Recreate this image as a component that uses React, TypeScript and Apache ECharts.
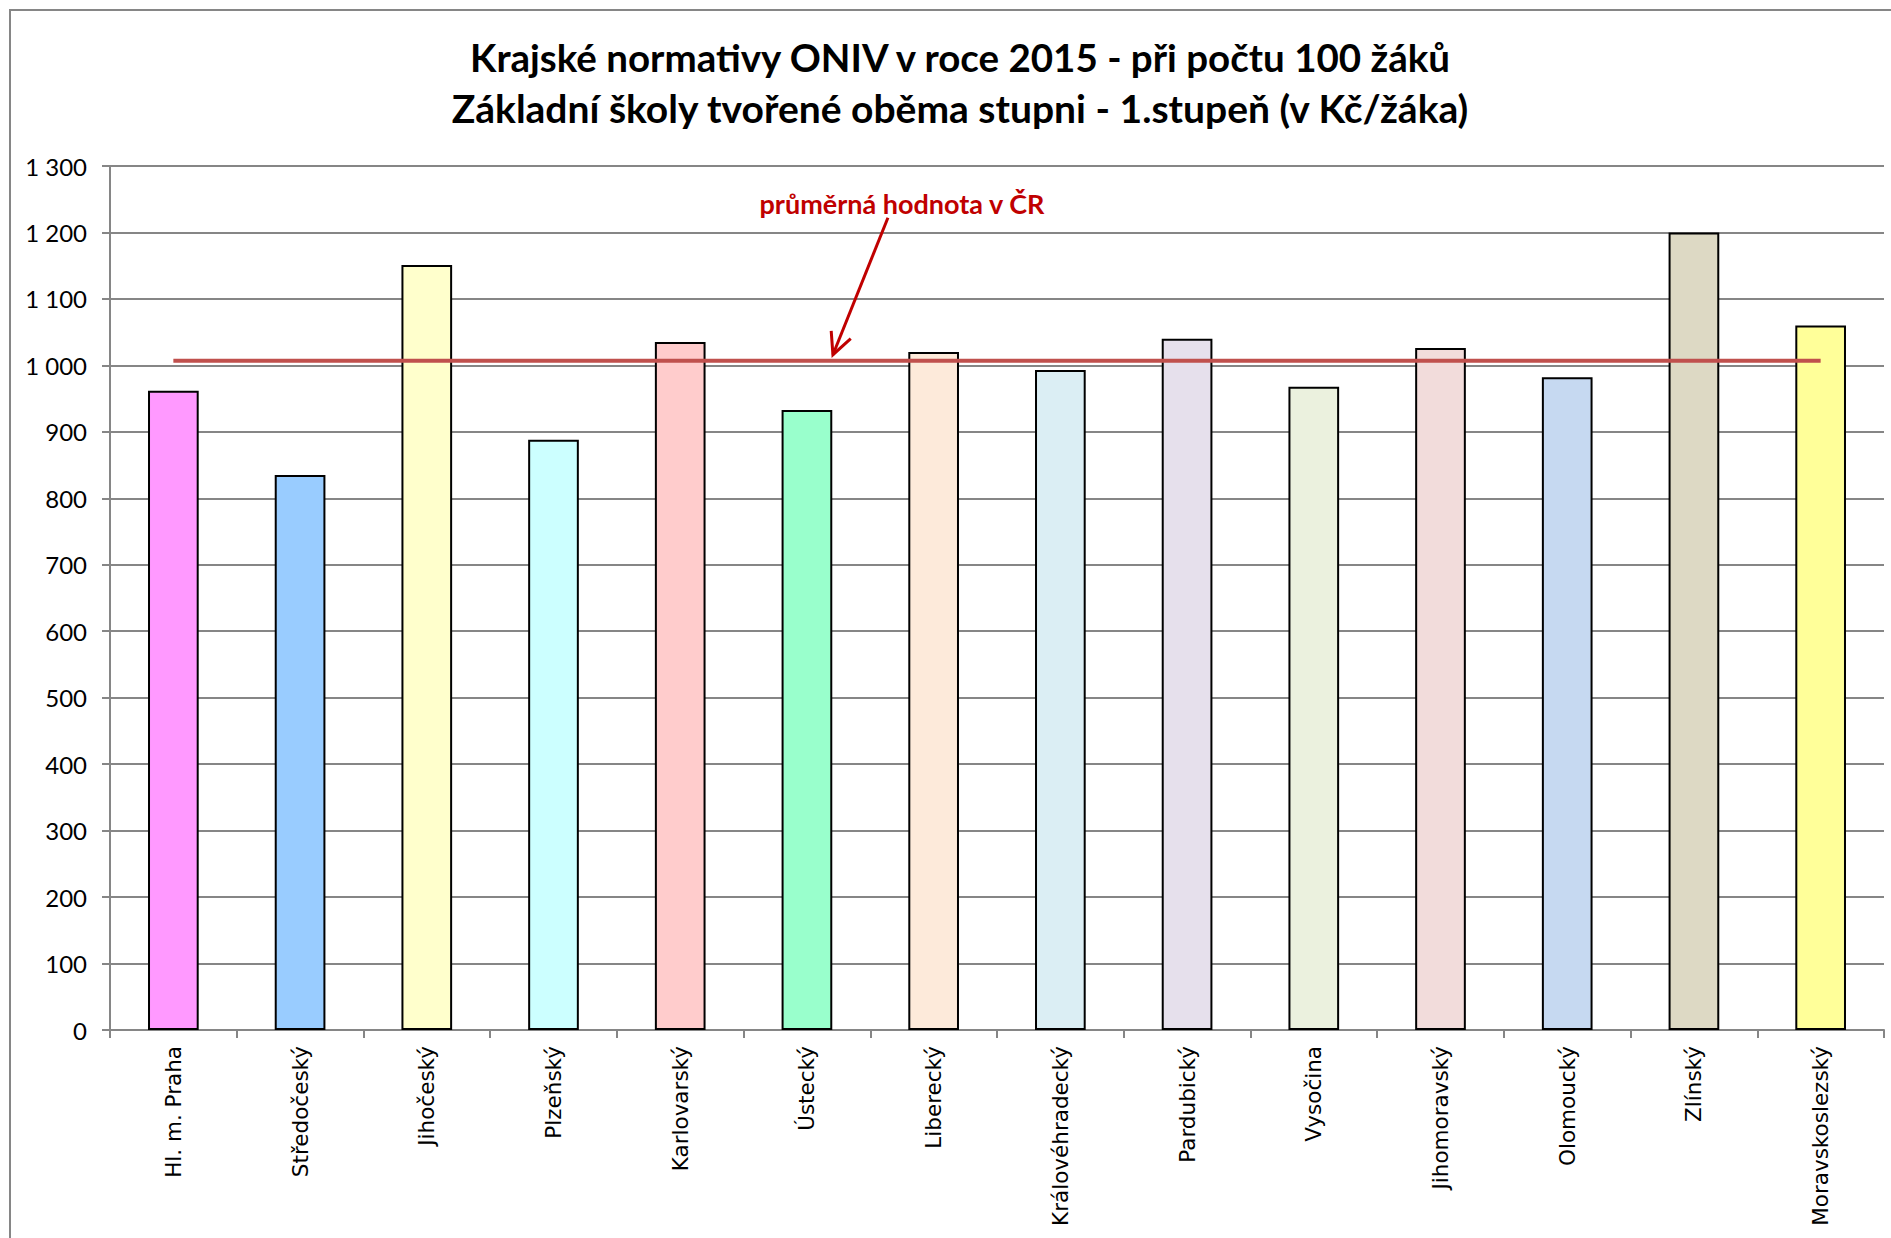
import React, { useEffect, useRef } from "react";
import * as echarts from "echarts";

const categories = [
  "Hl. m. Praha",
  "Středočeský",
  "Jihočeský",
  "Plzeňský",
  "Karlovarský",
  "Ústecký",
  "Liberecký",
  "Královéhradecký",
  "Pardubický",
  "Vysočina",
  "Jihomoravský",
  "Olomoucký",
  "Zlínský",
  "Moravskoslezský",
];

const values = [962, 835, 1151, 888, 1035, 933, 1020, 993, 1040, 968, 1026, 982, 1200, 1060];

const barColors = [
  "#FF99FF",
  "#99CCFF",
  "#FFFFCC",
  "#CCFFFF",
  "#FFCCCC",
  "#99FFCC",
  "#FDEADA",
  "#DBEEF4",
  "#E6E0EC",
  "#EBF1DE",
  "#F2DCDB",
  "#C6D9F1",
  "#DDD9C4",
  "#FFFF99",
];

const averageValue = 1007;

const titleLines = [
  "Krajské normativy ONIV v roce 2015 - při počtu 100 žáků",
  "Základní školy tvořené oběma stupni - 1.stupeň (v Kč/žáka)",
];

const annotationText = "průměrná hodnota v ČR";

export default function App() {
  const ref = useRef<HTMLDivElement>(null);

  useEffect(() => {
    if (!ref.current) return;
    const chart = echarts.init(ref.current, undefined, { renderer: "svg" });
    const gray = "#868686";
    const option: any = {
      animation: false,
      backgroundColor: "#ffffff",
      grid: { left: 110, right: 7, top: 166, bottom: 208, containLabel: false },
      xAxis: {
        type: "category",
        data: categories,
        axisLine: { show: true, lineStyle: { color: gray, width: 2 } },
        axisTick: { show: true, length: 8, lineStyle: { color: gray, width: 2 } },
        axisLabel: {
          rotate: 90,
          interval: 0,
          margin: 16,
          color: "#000",
          fontFamily: "DejaVu Sans",
          fontSize: 21.5,
        },
      },
      yAxis: {
        type: "value",
        min: 0,
        max: 1300,
        interval: 100,
        axisLine: { show: true, lineStyle: { color: gray, width: 2 } },
        axisTick: { show: true, length: 8, lineStyle: { color: gray, width: 2 } },
        splitLine: { show: true, lineStyle: { color: gray, width: 2 } },
        axisLabel: {
          margin: 23,
          color: "#000",
          fontFamily: "Lato",
          fontSize: 24,
          formatter: (v: number) => String(v).replace(/\B(?=(\d{3})+(?!\d))/g, " "),
        },
      },
      series: [
        {
          type: "bar",
          barWidth: "40%",
          data: values.map((v, i) => ({
            value: v,
            itemStyle: { color: barColors[i], borderColor: "#000", borderWidth: 2 },
          })),
          z: 2,
        },
        {
          type: "line",
          data: categories.map(() => averageValue),
          symbol: "none",
          lineStyle: { color: "#C0504D", width: 4 },
          z: 3,
        },
      ],
    };
    chart.setOption(option);

    const yAvg = chart.convertToPixel({ yAxisIndex: 0 }, averageValue) as number;
    const xRef = chart.convertToPixel({ xAxisIndex: 0 }, 5) as number;
    const tipX = xRef + 26;
    const tipY = yAvg - 6;
    const startX = tipX + 55;
    const startY = tipY - 137;
    const len = Math.hypot(startX - tipX, startY - tipY);
    const ux = (startX - tipX) / len;
    const uy = (startY - tipY) / len;
    const armLen = 24;
    const ang = (26 * Math.PI) / 180;
    const rot = (a: number) => [
      ux * Math.cos(a) - uy * Math.sin(a),
      ux * Math.sin(a) + uy * Math.cos(a),
    ];
    const a1 = rot(ang);
    const a2 = rot(-ang);
    const red = "#C00000";

    chart.setOption({
      graphic: [
        {
          type: "rect",
          silent: true,
          z: -1,
          shape: { x: 10, y: 10, width: 1900, height: 1250 },
          style: { fill: "none", stroke: gray, lineWidth: 2 },
        },
        {
          type: "text",
          x: 960,
          y: 57,
          style: {
            text: titleLines[0],
            textAlign: "center",
            textVerticalAlign: "middle",
            fontFamily: "Lato",
            fontWeight: "bold",
            fontSize: 38.5,
            fill: "#000",
          },
        },
        {
          type: "text",
          x: 960,
          y: 108,
          style: {
            text: titleLines[1],
            textAlign: "center",
            textVerticalAlign: "middle",
            fontFamily: "Lato",
            fontWeight: "bold",
            fontSize: 39,
            fill: "#000",
          },
        },
        {
          type: "text",
          x: startX + 14,
          y: startY - 14,
          style: {
            text: annotationText,
            textAlign: "center",
            textVerticalAlign: "middle",
            fontFamily: "Lato",
            fontWeight: "bold",
            fontSize: 27,
            fill: red,
          },
        },
        {
          type: "line",
          shape: { x1: startX, y1: startY, x2: tipX, y2: tipY },
          style: { stroke: red, lineWidth: 3 },
        },
        {
          type: "polyline",
          shape: {
            points: [
              [tipX + a1[0] * armLen, tipY + a1[1] * armLen],
              [tipX, tipY],
              [tipX + a2[0] * armLen, tipY + a2[1] * armLen],
            ],
          },
          style: { stroke: red, lineWidth: 3, fill: "none" },
        },
      ],
    });

    return () => chart.dispose();
  }, []);

  return (
    <div
      ref={ref}
      style={{ position: "fixed", left: 0, top: 0, width: 1891, height: 1238, background: "#fff" }}
    />
  );
}
